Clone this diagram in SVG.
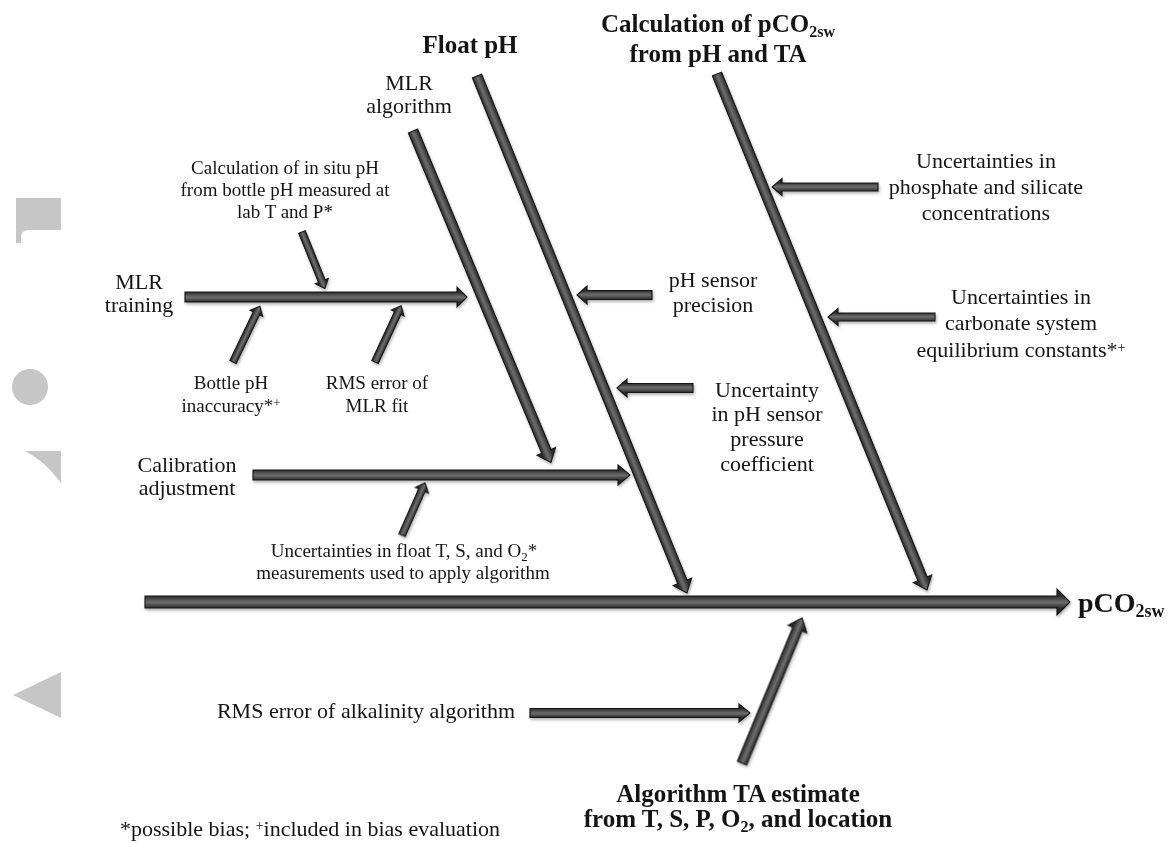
<svg xmlns="http://www.w3.org/2000/svg" width="1173" height="843" viewBox="0 0 1173 843">
<style>
text{font-family:"Liberation Serif","Times New Roman",serif;fill:#141414}
.t19{font-size:19px}
.t22{font-size:22px}
.hd{font-size:25px;font-weight:bold}
.m{text-anchor:middle}
.arr{stroke:#151515;stroke-width:1.1;stroke-linejoin:miter}
.wm{fill:#c6c6c6}
</style>
<defs>
<linearGradient id="g6" gradientUnits="userSpaceOnUse" x1="0" y1="-6" x2="0" y2="6">
<stop offset="0" stop-color="#2b2b2b"/><stop offset="0.4" stop-color="#5e5e5e"/><stop offset="0.55" stop-color="#6c6c6c"/><stop offset="1" stop-color="#2b2b2b"/>
</linearGradient>
<linearGradient id="g5" gradientUnits="userSpaceOnUse" x1="0" y1="-5" x2="0" y2="5">
<stop offset="0" stop-color="#2b2b2b"/><stop offset="0.4" stop-color="#5e5e5e"/><stop offset="0.55" stop-color="#6c6c6c"/><stop offset="1" stop-color="#2b2b2b"/>
</linearGradient>
<linearGradient id="g4" gradientUnits="userSpaceOnUse" x1="0" y1="-4.5" x2="0" y2="4.5">
<stop offset="0" stop-color="#2b2b2b"/><stop offset="0.4" stop-color="#5e5e5e"/><stop offset="0.55" stop-color="#6c6c6c"/><stop offset="1" stop-color="#2b2b2b"/>
</linearGradient>
<linearGradient id="g3" gradientUnits="userSpaceOnUse" x1="0" y1="-3.5" x2="0" y2="3.5">
<stop offset="0" stop-color="#2b2b2b"/><stop offset="0.4" stop-color="#5e5e5e"/><stop offset="0.55" stop-color="#6c6c6c"/><stop offset="1" stop-color="#2b2b2b"/>
</linearGradient>
<filter id="sh" x="-5%" y="-5%" width="110%" height="110%">
<feDropShadow dx="1" dy="2" stdDeviation="1.5" flood-color="#000" flood-opacity="0.3"/>
</filter>
</defs>
<rect width="1173" height="843" fill="#fff"/>

<g id="watermark">
<path class="wm" d="M16,198 L61,198 L61,230 L29,230 Q21,230 21,238 L21,243 L16,243 Z"/>
<circle class="wm" cx="30" cy="387" r="18"/>
<path class="wm" d="M25,451 L61,451 L61,483 Q44,460 25,451 Z"/>
<path class="wm" d="M61,672 L61,718 L13,695 Z"/>
</g>

<g id="connectors" filter="url(#sh)">
<polygon class="arr" fill="url(#g6)" transform="translate(145,602)" points="0,-6 912,-6 912,-13 925,0 912,13 912,6 0,6"/>
<polygon class="arr" fill="url(#g5)" transform="translate(185,297)" points="0,-5 272,-5 272,-10 282,0 272,10 272,5 0,5"/>
<polygon class="arr" fill="url(#g5)" transform="translate(253,475)" points="0,-5 365,-5 365,-10 377,0 365,10 365,5 0,5"/>
<polygon class="arr" fill="url(#g3)" transform="translate(302,232) rotate(68)" points="0,-3.5 53,-3.5 53,-7 61,0 53,7 53,3.5 0,3.5"/>
<polygon class="arr" fill="url(#g3)" transform="translate(233,362) rotate(-64.3)" points="0,-3.5 54,-3.5 54,-7 62,0 54,7 54,3.5 0,3.5"/>
<polygon class="arr" fill="url(#g3)" transform="translate(375,362) rotate(-65.1)" points="0,-3.5 54,-3.5 54,-7 62,0 54,7 54,3.5 0,3.5"/>
<polygon class="arr" fill="url(#g3)" transform="translate(402,535) rotate(-66.1)" points="0,-3.5 49,-3.5 49,-7 57,0 49,7 49,3.5 0,3.5"/>
<polygon class="arr" fill="url(#g5)" transform="translate(413,131) rotate(67.4)" points="0,-5 347,-5 347,-10 359,0 347,10 347,5 0,5"/>
<polygon class="arr" fill="url(#g5)" transform="translate(477,76) rotate(67.9)" points="0,-5 546,-5 546,-10 558,0 546,10 546,5 0,5"/>
<polygon class="arr" fill="url(#g5)" transform="translate(717,74) rotate(67.85)" points="0,-5 545,-5 545,-10 557,0 545,10 545,5 0,5"/>
<polygon class="arr" fill="url(#g4)" transform="translate(878,187) rotate(180)" points="0,-4 96,-4 96,-8.5 106,0 96,8.5 96,4 0,4"/>
<polygon class="arr" fill="url(#g4)" transform="translate(935,317) rotate(180)" points="0,-4 97,-4 97,-8.5 107,0 97,8.5 97,4 0,4"/>
<polygon class="arr" fill="url(#g4)" transform="translate(652,295) rotate(180)" points="0,-4.5 65,-4.5 65,-9 75,0 65,9 65,4.5 0,4.5"/>
<polygon class="arr" fill="url(#g4)" transform="translate(693,388) rotate(180)" points="0,-4.5 66,-4.5 66,-9 76,0 66,9 66,4.5 0,4.5"/>
<polygon class="arr" fill="url(#g4)" transform="translate(530,713)" points="0,-4.5 209,-4.5 209,-9 220,0 209,9 209,4.5 0,4.5"/>
<polygon class="arr" fill="url(#g5)" transform="translate(742,763) rotate(-67.5)" points="0,-5 145,-5 145,-10 157,0 145,10 145,5 0,5"/>
</g>

<g id="node-float-ph">
<text class="hd m" x="470" y="53">Float pH</text>
</g>
<g id="node-calc-pco2">
<text class="hd m" x="718" y="32">Calculation of pCO<tspan font-size="16" dy="5">2sw</tspan></text>
<text class="hd m" x="718" y="62">from pH and TA</text>
</g>
<g id="node-mlr-algorithm">
<text class="t22 m" x="409" y="90">MLR</text>
<text class="t22 m" x="409" y="113">algorithm</text>
</g>
<g id="node-insitu">
<text class="t19 m" x="285" y="174">Calculation of in situ pH</text>
<text class="t19 m" x="285" y="196">from bottle pH measured at</text>
<text class="t19 m" x="285" y="218">lab T and P*</text>
</g>
<g id="node-mlr-training">
<text class="t22 m" x="139" y="289">MLR</text>
<text class="t22 m" x="139" y="312">training</text>
</g>
<g id="node-bottle">
<text class="t19 m" x="231" y="389">Bottle pH</text>
<text class="t19 m" x="231" y="412">inaccuracy*<tspan font-size="13" dy="-5">+</tspan></text>
</g>
<g id="node-rms-mlr">
<text class="t19 m" x="377" y="389">RMS error of</text>
<text class="t19 m" x="377" y="412">MLR fit</text>
</g>
<g id="node-calibration">
<text class="t22 m" x="187" y="472">Calibration</text>
<text class="t22 m" x="187" y="495">adjustment</text>
</g>
<g id="node-float-sensors">
<text class="t19 m" x="404" y="557">Uncertainties in float T, S, and O<tspan font-size="13" dy="4">2</tspan><tspan dy="-4">*</tspan></text>
<text class="t19 m" x="403" y="579">measurements used to apply algorithm</text>
</g>
<g id="node-phosphate">
<text class="t22 m" x="986" y="168">Uncertainties in</text>
<text class="t22 m" x="986" y="194">phosphate and silicate</text>
<text class="t22 m" x="986" y="220">concentrations</text>
</g>
<g id="node-carbonate">
<text class="t22 m" x="1021" y="304">Uncertainties in</text>
<text class="t22 m" x="1021" y="330">carbonate system</text>
<text class="t22 m" x="1021" y="357">equilibrium constants*<tspan font-size="14" dy="-5">+</tspan></text>
</g>
<g id="node-ph-precision">
<text class="t22 m" x="713" y="287">pH sensor</text>
<text class="t22 m" x="713" y="312">precision</text>
</g>
<g id="node-pressure">
<text class="t22 m" x="767" y="397">Uncertainty</text>
<text class="t22 m" x="767" y="421">in pH sensor</text>
<text class="t22 m" x="767" y="446">pressure</text>
<text class="t22 m" x="767" y="471">coefficient</text>
</g>
<g id="node-pco2sw">
<text x="1078" y="612" font-size="28" font-weight="bold">pCO<tspan font-size="18" dy="5">2sw</tspan></text>
</g>
<g id="node-rms-alk">
<text class="t22 m" x="366" y="718">RMS error of alkalinity algorithm</text>
</g>
<g id="node-alg-ta">
<text class="hd m" x="738" y="802">Algorithm TA estimate</text>
<text class="hd m" x="738" y="827">from T, S, P, O<tspan font-size="16" dy="5">2</tspan><tspan dy="-5">, and location</tspan></text>
</g>
<g id="footnote">
<text class="t22" x="120" y="836">*possible bias; <tspan font-size="14" dy="-6">+</tspan><tspan dy="6">included in bias evaluation</tspan></text>
</g>
</svg>
